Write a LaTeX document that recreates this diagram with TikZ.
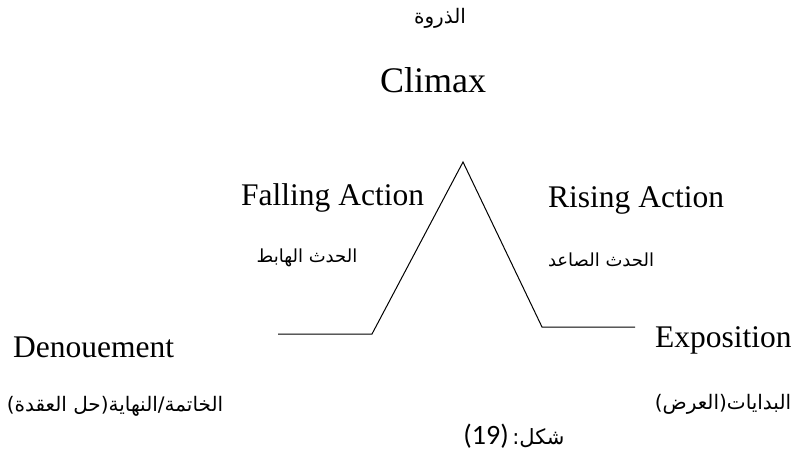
\documentclass[tikz,border=0pt]{standalone}
\usepackage{fontspec}
\setmainfont{Liberation Serif}
\newfontfamily\arabicfont[Script=Arabic]{DejaVu Sans}
\newfontfamily\digitfont{Carlito}
\TeXXeTstate=1
\tikzset{
  en/.style={font=\fontsize{31.5}{36}\selectfont, inner sep=0pt},
  entitle/.style={font=\fontsize{36}{40}\selectfont, inner sep=0pt},
  artitle/.style={font=\arabicfont\fontsize{20}{24}\selectfont, inner sep=0pt},
  ar/.style={font=\arabicfont\fontsize{18}{22}\selectfont, inner sep=0pt},
  arlow/.style={font=\arabicfont\fontsize{20}{24}\selectfont, inner sep=0pt},
  arfig/.style={font=\arabicfont\fontsize{21}{26}\selectfont, inner sep=0pt},
  plotline/.style={line width=1pt, line join=miter},
}
\begin{document}
\begin{tikzpicture}[x=1pt,y=-1pt]
\useasboundingbox (0,0) rectangle (808,463);

% plot of the story arc
\coordinate (l0) at (278,334);
\coordinate (l1) at (372,334);
\coordinate (pk) at (463,162);
\coordinate (r1) at (542,327);
\coordinate (r0) at (635,327);
\draw[plotline] (l0) -- (l1) -- (pk) -- (r1) -- (r0);

% labels
\node[artitle] (climaxar) at (440,18) {\beginR الذروة\endR};
\node[entitle, anchor=base] (climax) at (433,92) {Climax};

\node[en, anchor=base west] (falling) at (241,205) {Falling Action};
\node[ar] (fallingar) at (307,258) {\beginR الحدث الهابط\endR};

\node[en, anchor=base west] (rising) at (548,207) {Rising Action};
\node[ar] (risingar) at (601,260) {\beginR الحدث الصاعد\endR};

\node[en, anchor=base west] (denouement) at (13,357) {Denouement};
\node[arlow] (denouementar) at (115,406) {\beginR الخاتمة/النهاية(حل العقدة)\endR};

\node[en, anchor=base west] (exposition) at (655,347) {Exposition};
\node[arlow] (expositionar) at (723,404) {\beginR البدايات(العرض)\endR};

\node[arfig] (figlabel) at (514,436) {\beginR شكل:\,{\beginL\digitfont\fontsize{28}{32}\selectfont(19)\endL}\endR};
\end{tikzpicture}
\end{document}
